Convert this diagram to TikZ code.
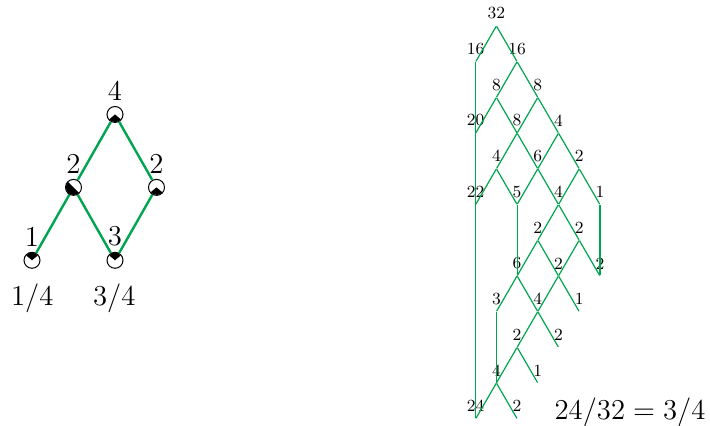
\documentclass[tikz,border=0pt]{standalone}
\usepackage{xcolor}
\definecolor{walkGreen}{RGB}{0,165,80}
\usepackage{tikz}
\usetikzlibrary{calc}
\tikzstyle{site}=[circle, draw, fill=white, minimum size=8pt, inner sep=0pt, line width=0.5pt]
\tikzstyle{sitelabel}=[font=\Large, inner sep=0pt, label distance=2.4pt]
\tikzstyle{walkedge}=[line width=1.2pt, color=walkGreen]
\tikzstyle{latpoint}=[inner sep=0pt, minimum size=0pt]
\tikzstyle{latlabel}=[font=\fontsize{8.5}{10}\selectfont, inner sep=0pt, label distance=3pt]
\tikzstyle{latedge}=[line width=0.6pt, color=walkGreen]

\begin{document}
\begin{tikzpicture}[x=0.5pt, y=0.5pt]
    \useasboundingbox (0,0) rectangle (710,426);

    % Small lattice with marked sites
    \foreach \n/\c/\r/\v in {a/2/0/4, b/1/1/2, c/3/1/2, d/0/2/1, e/2/2/3} {
      \node[site, label={[sitelabel]above:\v}] (\n) at (32+41.5*\c, 311.5-72.9*\r) {};
    }
    \foreach \s/\t in {a/b, a/c, b/d, b/e, c/e} {
      \draw[walkedge] (\s) -- (\t);
    }
    \foreach \n/\a/\b in {a/220/320, b/135/315, c/220/320, d/40/140, e/40/140} {
      \fill (\n.center) -- ++(\a:3.8pt) arc[start angle=\a, end angle=\b, radius=3.8pt] -- cycle;
    }
    \node[font=\Large, anchor=base] (fracd) at (32.2, 120) {$1/4$};
    \node[font=\Large, anchor=base] (frace) at (114.2, 120) {$3/4$};

    % Large lattice, path counts
    \foreach \c/\r/\v in {1/0/32, 0/1/16, 2/1/16, 1/2/8, 3/2/8, 0/3/20, 2/3/8, 4/3/4,
        1/4/4, 3/4/6, 5/4/2, 0/5/22, 2/5/5, 4/5/4, 6/5/1, 3/6/2, 5/6/2,
        2/7/6, 4/7/2, 6/7/2, 1/8/3, 3/8/4, 5/8/1, 2/9/2, 4/9/2,
        1/10/4, 3/10/1, 0/11/24, 2/11/2} {
      \node[latpoint, label={[latlabel]above:\v}] (q\c-\r) at (475.7+20.7*\c, 400-35.7*\r) {};
    }
    \foreach \s/\t in {1-0/0-1, 1-0/2-1, 2-1/1-2, 2-1/3-2, 1-2/0-3, 1-2/2-3, 3-2/2-3, 3-2/4-3,
        2-3/1-4, 2-3/3-4, 4-3/3-4, 4-3/5-4, 1-4/0-5, 1-4/2-5, 3-4/2-5, 3-4/4-5,
        5-4/4-5, 5-4/6-5, 4-5/3-6, 4-5/5-6, 3-6/2-7, 3-6/4-7, 5-6/4-7, 5-6/6-7,
        2-7/1-8, 2-7/3-8, 4-7/3-8, 4-7/5-8, 3-8/2-9, 3-8/4-9, 2-9/1-10, 2-9/3-10,
        1-10/0-11, 1-10/2-11, 0-1/0-11, 2-5/2-7, 6-5/6-7, 1-8/1-10} {
      \draw[latedge] (q\s) -- (q\t);
    }
    \node[font=\Large, anchor=base] (ratio) at (630, 6.7) {$24/32 = 3/4$};
  \end{tikzpicture}
\end{document}
